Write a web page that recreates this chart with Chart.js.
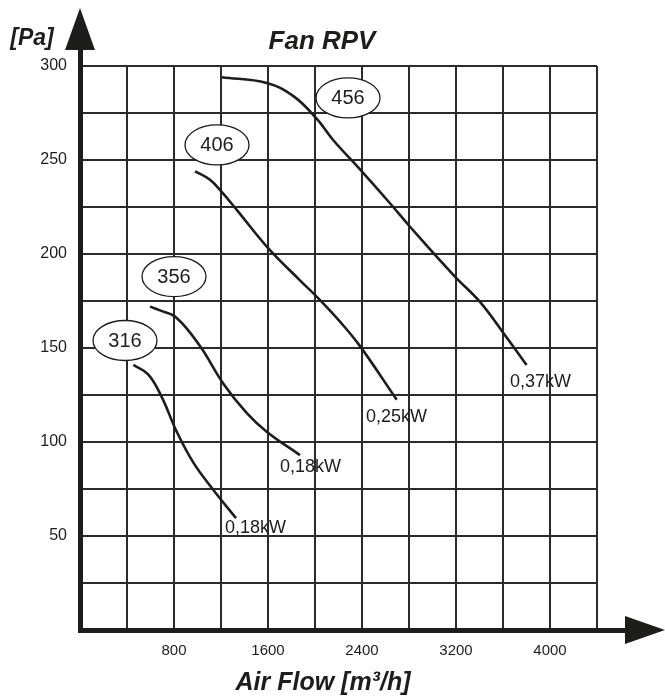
<!DOCTYPE html>
<html>
<head>
<meta charset="utf-8">
<title>Fan RPV</title>
<script src="https://cdn.jsdelivr.net/npm/chart.js@4.4.0/dist/chart.umd.min.js"></script>
<style>
  html, body { margin: 0; padding: 0; background: #fff; }
  #wrap { width: 665px; height: 700px; position: relative; }
</style>
</head>
<body>
<div id="wrap"><canvas id="fanChart" width="665" height="700"></canvas></div>
<script>
// Fan curves (air flow m3/h vs pressure Pa)
const fan316X = [454, 580, 695, 823, 965, 1135, 1328];
const fan316Y = [141, 136, 124, 105.5, 89, 74.5, 59.5];

const fan356X = [596, 681, 823, 1021, 1220, 1418, 1589, 1872];
const fan356Y = [172, 170, 166, 151, 131, 115.5, 105.5, 93];

const fan406X = [979, 1106, 1206, 1334, 1603, 1872, 2043, 2213, 2383, 2695];
const fan406Y = [244, 239.5, 233, 223.5, 203, 186, 175.5, 164, 151, 122.5];

const fan456X = [1206, 1589, 1816, 2014, 2156, 2383, 2638, 2809, 3191, 3404, 3603, 3801];
const fan456Y = [294, 291, 284, 272, 260.5, 245, 227, 214.5, 188, 174.5, 158, 141];

const xTickLabels = [800, 1600, 2400, 3200, 4000];
const yTickLabels = [50, 100, 150, 200, 250, 300];

// labels: fan size in ellipse, motor power near curve end
const fanNames = ['316', '356', '406', '456'];
const fanPowers = ['0,18kW', '0,18kW', '0,25kW', '0,37kW'];
const nameAtX = [383, 800, 1166, 2281];
const nameAtY = [154, 188, 258, 283];
const powerAtX = [1234, 1702, 2434, 3660];
const powerAtY = [54.3, 86.7, 113.3, 131.9];

const INK = '#1d1d1b';
const FONT = '"Liberation Sans", Arial, sans-serif';

function toPoints(xs, ys) {
    return xs.map((x, i) => ({ x: x, y: ys[i] }));
}

const series = [
    toPoints(fan316X, fan316Y),
    toPoints(fan356X, fan356Y),
    toPoints(fan406X, fan406Y),
    toPoints(fan456X, fan456Y)
];

// Draw axes with arrows, ellipse labels, power labels and titles
const decorPlugin = {
    id: 'decor',
    afterDraw(chart) {
        const ctx = chart.ctx;
        const area = chart.chartArea;
        const xs = chart.scales.x;
        const ys = chart.scales.y;
        ctx.save();

        // axes
        ctx.fillStyle = INK;
        ctx.fillRect(area.left - 2, 40, 5, area.bottom - 40 + 2);
        ctx.fillRect(area.left - 2, area.bottom - 2, 628 - area.left, 5);
        ctx.beginPath();
        ctx.moveTo(area.left, 8);
        ctx.lineTo(area.left - 15, 50);
        ctx.lineTo(area.left + 15, 50);
        ctx.closePath();
        ctx.fill();
        ctx.beginPath();
        ctx.moveTo(665, area.bottom);
        ctx.lineTo(625, area.bottom - 14);
        ctx.lineTo(625, area.bottom + 14);
        ctx.closePath();
        ctx.fill();

        // fan size ellipses
        ctx.font = '20px ' + FONT;
        ctx.textAlign = 'center';
        ctx.textBaseline = 'middle';
        ctx.lineWidth = 1.3;
        ctx.strokeStyle = INK;
        fanNames.forEach((name, i) => {
            const cx = xs.getPixelForValue(nameAtX[i]);
            const cy = ys.getPixelForValue(nameAtY[i]);
            ctx.beginPath();
            ctx.ellipse(cx, cy, 32, 20, 0, 0, Math.PI * 2);
            ctx.fillStyle = '#fff';
            ctx.fill();
            ctx.stroke();
            ctx.fillStyle = INK;
            ctx.fillText(name, cx, cy + 1);
        });

        // power labels
        ctx.font = '18px ' + FONT;
        ctx.textAlign = 'left';
        fanPowers.forEach((txt, i) => {
            ctx.fillText(txt, xs.getPixelForValue(powerAtX[i]), ys.getPixelForValue(powerAtY[i]));
        });

        // titles
        ctx.font = 'italic bold 26px ' + FONT;
        ctx.textAlign = 'center';
        ctx.fillText('Fan RPV', 322, 42);
        ctx.font = 'italic bold 23px ' + FONT;
        ctx.fillText('[Pa]', 32, 39);
        ctx.font = 'italic bold 25px ' + FONT;
        ctx.fillText('Air Flow [m\u00b3/h]', 323, 683);
        ctx.restore();
    }
};

new Chart(document.getElementById('fanChart'), {
    type: 'line',
    data: {
        datasets: series.map((pts, i) => ({
            label: fanNames[i],
            data: pts,
            borderColor: INK,
            borderWidth: 2.6,
            pointRadius: 0,
            tension: 0.4,
            fill: false
        }))
    },
    options: {
        responsive: false,
        animation: false,
        layout: { padding: { left: 0, right: 68, top: 66, bottom: 0 } },
        plugins: {
            legend: { display: false },
            tooltip: { enabled: false }
        },
        scales: {
            x: {
                type: 'linear',
                min: 0,
                max: 4400,
                afterFit: (scale) => { scale.height = 70; },
                border: { display: false },
                grid: { color: '#2b2b2b', lineWidth: 2, drawTicks: false },
                ticks: {
                    stepSize: 400,
                    autoSkip: false,
                    maxRotation: 0,
                    padding: 12,
                    color: INK,
                    font: { family: FONT, size: 15 },
                    callback: (v) => xTickLabels.includes(v) ? String(v) : ''
                }
            },
            y: {
                type: 'linear',
                min: 0,
                max: 300,
                afterFit: (scale) => { scale.width = 80; },
                border: { display: false },
                grid: { color: '#2b2b2b', lineWidth: 2, drawTicks: false },
                ticks: {
                    stepSize: 25,
                    autoSkip: false,
                    padding: 13,
                    color: INK,
                    font: { family: FONT, size: 16 },
                    callback: (v) => yTickLabels.includes(v) ? String(v) : ''
                }
            }
        }
    },
    plugins: [decorPlugin]
});
</script>
</body>
</html>
